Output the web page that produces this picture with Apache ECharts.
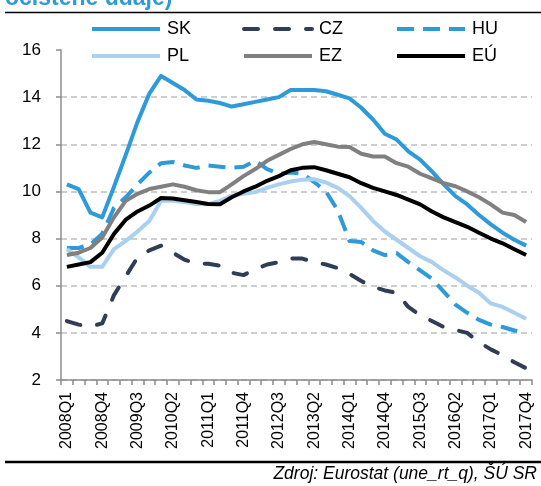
<!DOCTYPE html>
<html>
<head>
<meta charset="utf-8">
<script src="https://cdn.jsdelivr.net/npm/echarts@6/dist/echarts.min.js"></script>
<style>
html,body{margin:0;padding:0;background:#fff;}
#chart{width:541px;height:486px;}
</style>
</head>
<body>
<div id="chart"></div>
<script>
var quarters = ['2008Q1','2008Q2','2008Q3','2008Q4','2009Q1','2009Q2','2009Q3','2009Q4',
  '2010Q1','2010Q2','2010Q3','2010Q4','2011Q1','2011Q2','2011Q3','2011Q4',
  '2012Q1','2012Q2','2012Q3','2012Q4','2013Q1','2013Q2','2013Q3','2013Q4',
  '2014Q1','2014Q2','2014Q3','2014Q4','2015Q1','2015Q2','2015Q3','2015Q4',
  '2016Q1','2016Q2','2016Q3','2016Q4','2017Q1','2017Q2','2017Q3','2017Q4'];

var SK = [10.3, 10.1, 9.1, 8.9, 10.2, 11.55, 12.95, 14.15, 14.9, 14.6, 14.3, 13.9, 13.85, 13.75, 13.6, 13.7,
  13.8, 13.9, 14.0, 14.3, 14.3, 14.3, 14.25, 14.1, 13.95, 13.55, 13.05, 12.45, 12.2, 11.7, 11.35, 10.85,
  10.3, 9.8, 9.45, 9.0, 8.6, 8.25, 7.95, 7.7];
var CZ = [4.5, 4.35, 4.27, 4.4, 5.6, 6.4, 7.2, 7.5, 7.7, 7.4, 7.1, 6.95, 6.93, 6.85, 6.55, 6.45,
  6.7, 6.9, 7.0, 7.15, 7.15, 7.0, 6.9, 6.75, 6.5, 6.2, 5.95, 5.8, 5.7, 5.1, 4.75, 4.5,
  4.25, 4.12, 4.0, 3.6, 3.3, 3.05, 2.75, 2.5];
var HU = [7.6, 7.6, 7.75, 8.2, 9.3, 9.75, 10.3, 10.8, 11.2, 11.25, 11.1, 11.0, 11.1, 11.05, 11.0, 11.05,
  11.3, 10.95, 10.75, 10.8, 10.75, 10.4, 10.0, 9.2, 7.9, 7.85, 7.5, 7.3, 7.38, 7.0, 6.65, 6.3,
  5.75, 5.2, 4.85, 4.55, 4.35, 4.25, 4.1, 4.0];
var PL = [7.55, 7.2, 6.8, 6.8, 7.55, 7.9, 8.3, 8.75, 9.6, 9.6, 9.55, 9.47, 9.46, 9.6, 9.82, 9.9,
  9.97, 10.15, 10.3, 10.42, 10.5, 10.52, 10.38, 10.15, 9.8, 9.3, 8.75, 8.3, 7.95, 7.6, 7.25, 7.0,
  6.65, 6.35, 6.0, 5.7, 5.25, 5.1, 4.85, 4.6];
var EZ = [7.3, 7.4, 7.6, 8.05, 8.9, 9.6, 9.9, 10.1, 10.2, 10.3, 10.2, 10.05, 9.97, 9.97, 10.3, 10.65,
  10.95, 11.3, 11.55, 11.8, 12.0, 12.1, 12.0, 11.9, 11.88, 11.6, 11.48, 11.48, 11.2, 11.05, 10.75, 10.55,
  10.35, 10.22, 10.0, 9.75, 9.45, 9.1, 9.0, 8.7];
var EU = [6.8, 6.9, 7.0, 7.4, 8.2, 8.8, 9.15, 9.4, 9.72, 9.7, 9.63, 9.55, 9.47, 9.46, 9.75, 10.0,
  10.2, 10.45, 10.65, 10.9, 11.0, 11.03, 10.9, 10.75, 10.6, 10.35, 10.15, 10.0, 9.85, 9.65, 9.45, 9.15,
  8.9, 8.7, 8.5, 8.25, 8.0, 7.8, 7.55, 7.3];

var FONT = 'Liberation Sans';
var chart = echarts.init(document.getElementById('chart'), null, {renderer: 'canvas'});

function lineSeries(name, data, color, type, cap) {
  return {
    name: name, type: 'line', data: data, symbol: 'none', showSymbol: false, smooth: false,
    lineStyle: {color: color, width: 4, type: type || 'solid', cap: cap || 'butt', join: 'round'},
    itemStyle: {color: color}
  };
}

function legend(left, names) {
  return {
    orient: 'vertical', left: left, top: 20, padding: 0,
    itemWidth: 68, itemHeight: 18, itemGap: 9,
    data: names,
    itemStyle: {opacity: 0},
    lineStyle: {width: 4},
    textStyle: {fontFamily: FONT, fontSize: 18, lineHeight: 18, color: '#000', padding: [0, 0, 0, 2]}
  };
}

var option = {
  animation: false,
  backgroundColor: '#fff',
  grid: {left: 61, right: 9, top: 50, bottom: 106, containLabel: false},
  legend: [
    legend(90, ['SK', 'PL']),
    legend(242, ['CZ', 'EZ']),
    legend(395, ['HU', 'EÚ'])
  ],
  xAxis: {
    type: 'category', data: quarters, boundaryGap: true,
    axisLine: {lineStyle: {color: '#8c8c8c', width: 1.5}},
    axisTick: {show: true, interval: 0, length: 5, lineStyle: {color: '#8c8c8c', width: 1.5}},
    axisLabel: {interval: 2, rotate: 90, margin: 12, fontFamily: FONT, fontSize: 16, color: '#000'},
    splitLine: {show: false}
  },
  yAxis: {
    type: 'value', min: 2, max: 16, interval: 2,
    axisLine: {show: true, lineStyle: {color: '#8c8c8c', width: 1.5}},
    axisTick: {show: true, length: 5, lineStyle: {color: '#8c8c8c', width: 1.5}},
    axisLabel: {margin: 20, fontFamily: FONT, fontSize: 17, color: '#000'},
    splitLine: {show: true, lineStyle: {type: [6, 4], width: 1.5,
      color: ['#bfbfbf', '#bfbfbf', '#bfbfbf', '#bfbfbf', '#bfbfbf', '#bfbfbf', '#bfbfbf', 'rgba(0,0,0,0)']}}
  },
  series: [
    lineSeries('SK', SK, '#2e9ad9'),
    lineSeries('CZ', CZ, '#2f3d55', [14, 17], 'round'),
    lineSeries('HU', HU, '#2e9ad9', [17, 9], 'butt'),
    lineSeries('PL', PL, '#a9d0f0'),
    lineSeries('EZ', EZ, '#808080'),
    lineSeries('EÚ', EU, '#000000')
  ],
  graphic: [
    {type: 'text', left: 5, top: -13, style: {text: 'očistené údaje)', font: 'bold 23px ' + FONT, fill: '#2e9ad9'}},
    {type: 'line', shape: {x1: 5, y1: 12.5, x2: 541, y2: 12.5}, style: {stroke: '#000', lineWidth: 1.5}},
    {type: 'line', shape: {x1: 5, y1: 462, x2: 541, y2: 462}, style: {stroke: '#000', lineWidth: 2.5}},
    {type: 'text', right: 4, top: 465, style: {text: 'Zdroj: Eurostat (une_rt_q), ŠÚ SR', font: 'italic 17.5px ' + FONT, fill: '#000'}}
  ]
};
chart.setOption(option);
</script>
</body>
</html>
